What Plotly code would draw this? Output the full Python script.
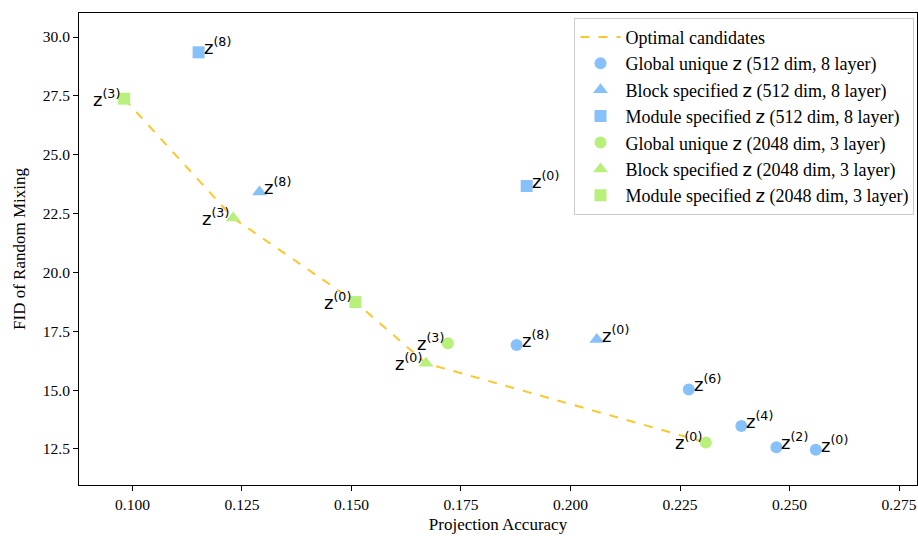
import plotly.graph_objects as go

# ---- data ----
blue_circle_x = [0.1877, 0.2270, 0.2390, 0.2470, 0.2560]
blue_circle_y = [16.92, 15.03, 13.48, 12.57, 12.47]
blue_circle_lbl = ["8", "6", "4", "2", "0"]

blue_tri_x = [0.1290, 0.2060]
blue_tri_y = [23.42, 17.15]
blue_tri_lbl = ["8", "0"]

blue_sq_x = [0.1151, 0.1900]
blue_sq_y = [29.35, 23.67]
blue_sq_lbl = ["8", "0"]

green_circle_x = [0.1720, 0.2309]
green_circle_y = [16.99, 12.78]
green_circle_lbl = ["3", "0"]

green_tri_x = [0.1230, 0.1670]
green_tri_y = [22.31, 16.14]
green_tri_lbl = ["3", "0"]

green_sq_x = [0.0981, 0.1509]
green_sq_y = [27.38, 18.74]
green_sq_lbl = ["3", "0"]

opt_x = [0.0981, 0.1230, 0.1509, 0.1670, 0.2309]
opt_y = [27.38, 22.31, 18.74, 16.14, 12.78]

x_ticks = [0.100, 0.125, 0.150, 0.175, 0.200, 0.225, 0.250, 0.275]
y_ticks = [12.5, 15.0, 17.5, 20.0, 22.5, 25.0, 27.5, 30.0]

BLUE = "#87C1FC"
GREEN = "#B9F07C"
GOLD = "#FFC62B"
SERIF = "Liberation Serif, Times New Roman, serif"
SANS = "DejaVu Sans"
Z = '<span style="font-family:DejaVu Sans">z</span>'

fig = go.Figure()
fig.add_trace(go.Scatter(x=opt_x, y=opt_y, mode="lines", name="Optimal candidates",
                         line=dict(color=GOLD, width=2, dash="dash")))

series = [
    ("Global unique %s (512 dim, 8 layer)" % Z, blue_circle_x, blue_circle_y, blue_circle_lbl, "circle", BLUE, "right"),
    ("Block specified %s (512 dim, 8 layer)" % Z, blue_tri_x, blue_tri_y, blue_tri_lbl, "triangle-up", BLUE, "right"),
    ("Module specified %s (512 dim, 8 layer)" % Z, blue_sq_x, blue_sq_y, blue_sq_lbl, "square", BLUE, "right"),
    ("Global unique %s (2048 dim, 3 layer)" % Z, green_circle_x, green_circle_y, green_circle_lbl, "circle", GREEN, "left"),
    ("Block specified %s (2048 dim, 3 layer)" % Z, green_tri_x, green_tri_y, green_tri_lbl, "triangle-up", GREEN, "left"),
    ("Module specified %s (2048 dim, 3 layer)" % Z, green_sq_x, green_sq_y, green_sq_lbl, "square", GREEN, "left"),
]

sizes = {"circle": 12, "triangle-up": 13, "square": 12}
for name, xs, ys, lbls, sym, col, side in series:
    fig.add_trace(go.Scatter(x=xs, y=ys, mode="markers", name=name,
                             marker=dict(symbol=sym, color=col, size=sizes[sym], line=dict(width=0))))
    for xv, yv, lb in zip(xs, ys, lbls):
        if side == "right":
            fig.add_annotation(x=xv, y=yv, text="z<sup>(%s)</sup>" % lb, showarrow=False,
                               xanchor="left", yanchor="bottom", xshift=3, yshift=-8,
                               font=dict(family=SANS, size=18, color="black"))
        else:
            fig.add_annotation(x=xv, y=yv, text="z<sup>(%s)</sup>" % lb, showarrow=False,
                               xanchor="right", yanchor="top", xshift=-2, yshift=15,
                               font=dict(family=SANS, size=18, color="black"))

fig.update_layout(
    width=918, height=536,
    margin=dict(l=79, r=1, t=13, b=51, autoexpand=False),
    plot_bgcolor="white", paper_bgcolor="white",
    font=dict(family=SERIF, size=15, color="black"),
    showlegend=True,
    legend=dict(x=0.997, y=0.99, xanchor="right", yanchor="top",
                bgcolor="rgba(255,255,255,0.8)", bordercolor="#cccccc", borderwidth=1,
                font=dict(family=SERIF, size=18), tracegroupgap=0, itemwidth=40),
)
fig.update_xaxes(range=[0.0878, 0.2791], tickvals=x_ticks, ticktext=["%.3f" % v for v in x_ticks],
                 automargin=False,
                 showgrid=False, zeroline=False, showline=True, linecolor="black", linewidth=1,
                 mirror=True, ticks="outside", ticklen=5, tickcolor="black",
                 title=dict(text="Projection Accuracy", font=dict(family=SERIF, size=17), standoff=6),
                 tickfont=dict(family=SERIF, size=15.5))
fig.update_yaxes(range=[10.97, 31.02], tickvals=y_ticks, ticktext=["%.1f" % v for v in y_ticks],
                 automargin=False,
                 showgrid=False, zeroline=False, showline=True, linecolor="black", linewidth=1,
                 mirror=True, ticks="outside", ticklen=5, tickcolor="black",
                 title=dict(text="FID of Random Mixing", font=dict(family=SERIF, size=17), standoff=12),
                 tickfont=dict(family=SERIF, size=15.5))

fig.write_html("out.html", post_script="document.body.style.margin='0px';",
               config={"displayModeBar": False})
